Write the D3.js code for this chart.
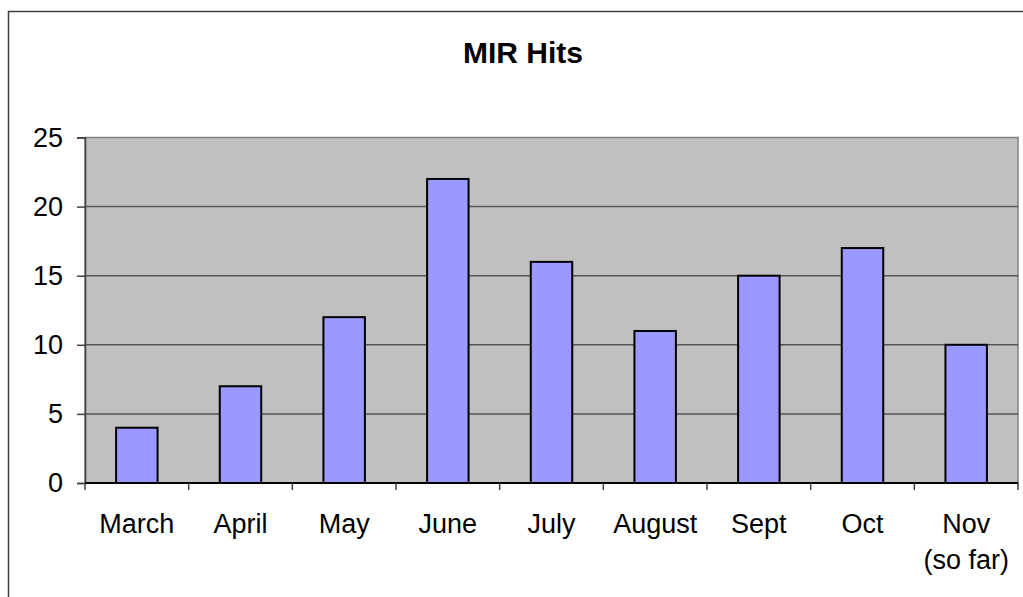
<!DOCTYPE html>
<html>
<head>
<meta charset="utf-8">
<script src="https://cdn.jsdelivr.net/npm/d3@7"></script>
<style>
  body { margin: 0; background: #fff; }
  svg { display: block; font-family: "Liberation Sans", Arial, sans-serif; }
</style>
</head>
<body>
<div id="chart"></div>
<script>
// data
const months = ["March", "April", "May", "June", "July", "August", "Sept", "Oct", "Nov\n(so far)"];
const hits = [4, 7, 12, 22, 16, 11, 15, 17, 10];
const yTicks = [0, 5, 10, 15, 20, 25];

const W = 1023, H = 597;
const plot = { left: 85, right: 1018, top: 137.5, bottom: 483 };

const svg = d3.select("#chart").append("svg")
  .attr("width", W)
  .attr("height", H);

// outer chart border (runs off the right and bottom)
svg.append("rect")
  .attr("x", 8.5).attr("y", 11.5)
  .attr("width", W + 20).attr("height", H + 20)
  .attr("fill", "#fff")
  .attr("stroke", "#404040")
  .attr("stroke-width", 1.5);

svg.append("text")
  .attr("x", 523).attr("y", 63)
  .attr("text-anchor", "middle")
  .attr("font-size", "30px")
  .attr("font-weight", "bold")
  .text("MIR Hits");

const x = d3.scaleBand()
  .domain(months)
  .range([plot.left, plot.right])
  .paddingInner(0.6)
  .paddingOuter(0.3);

const xTick = d3.scaleBand()
  .domain(months)
  .range([plot.left, plot.right]);

const y = d3.scaleLinear()
  .domain([0, 25])
  .range([plot.bottom, plot.top]);

// plot area
svg.append("rect")
  .attr("x", plot.left).attr("y", plot.top)
  .attr("width", plot.right - plot.left)
  .attr("height", plot.bottom - plot.top)
  .attr("fill", "#c0c0c0")
  .attr("stroke", "#808080")
  .attr("stroke-width", 1.5);

// gridlines
svg.append("g")
  .selectAll("line")
  .data(yTicks.filter(d => d > 0 && d < 25))
  .join("line")
  .attr("x1", plot.left).attr("x2", plot.right)
  .attr("y1", d => y(d)).attr("y2", d => y(d))
  .attr("stroke", "#555")
  .attr("stroke-width", 1.5);

// bars
svg.append("g")
  .selectAll("rect")
  .data(hits)
  .join("rect")
  .attr("x", (d, i) => x(months[i]))
  .attr("y", d => y(d))
  .attr("width", x.bandwidth())
  .attr("height", d => y(0) - y(d))
  .attr("fill", "#9999ff")
  .attr("stroke", "#000")
  .attr("stroke-width", 2);

// y axis
const yAxis = svg.append("g")
  .attr("transform", `translate(${plot.left},0)`)
  .call(d3.axisLeft(y).tickValues(yTicks).tickSize(8).tickPadding(14));
yAxis.select(".domain").attr("stroke", "#404040").attr("stroke-width", 1.5);
yAxis.selectAll(".tick line").attr("stroke", "#404040").attr("stroke-width", 1.5);
yAxis.selectAll(".tick text")
  .attr("font-size", "27px")
  .attr("font-family", "Liberation Sans, Arial, sans-serif")
  .attr("fill", "#000");

// x axis
const xAxis = svg.append("g")
  .attr("transform", `translate(0,${plot.bottom})`);
xAxis.append("line")
  .attr("x1", plot.left).attr("x2", plot.right)
  .attr("y1", 0).attr("y2", 0)
  .attr("stroke", "#000").attr("stroke-width", 2);
xAxis.selectAll(".xt")
  .data([...months.map(m => xTick(m)), plot.right])
  .join("line")
  .attr("class", "xt")
  .attr("x1", d => d).attr("x2", d => d)
  .attr("y1", 0).attr("y2", 7)
  .attr("stroke", "#404040").attr("stroke-width", 1.5);

const labels = xAxis.selectAll(".xl")
  .data(months)
  .join("text")
  .attr("class", "xl")
  .attr("text-anchor", "middle")
  .attr("font-size", "27px")
  .attr("transform", d => `translate(${xTick(d) + xTick.bandwidth() / 2},50)`);
labels.selectAll("tspan")
  .data(d => d.split("\n"))
  .join("tspan")
  .attr("x", 0)
  .attr("y", (d, i) => i * 36)
  .text(d => d);
</script>
</body>
</html>
